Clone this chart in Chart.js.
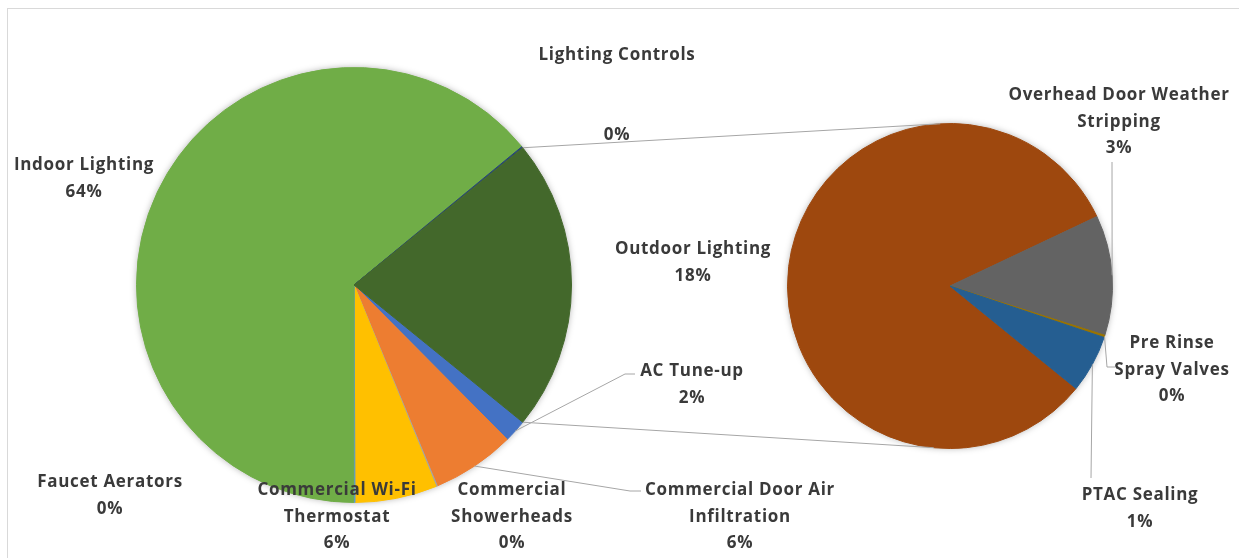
<!DOCTYPE html>
<html>
<head>
<meta charset="utf-8">
<script src="https://cdn.jsdelivr.net/npm/chart.js@4.4.1/dist/chart.umd.min.js"></script>
<style>
  body { margin: 0; background: #fff; }
  #wrap { position: relative; width: 1239px; height: 558px; overflow: hidden; }
  #frame { position: absolute; left: 7px; top: 8px; width: 1300px; height: 600px; border: 1px solid #D9D9D9; box-sizing: border-box; }
  canvas { position: absolute; left: 0; top: 0; }
</style>
</head>
<body>
<div id="wrap">
  <div id="frame"></div>
  <canvas id="mainPie" width="1239" height="558"></canvas>
  <canvas id="subPie" width="1239" height="558"></canvas>
</div>
<script>
// main pie, Excel order. the "other" slice (sum of the second pie) goes last
const mainLabels = ['AC Tune-up', 'Commercial Door Air Infiltration', 'Commercial Showerheads',
  'Commercial Wi-Fi Thermostat', 'Faucet Aerators', 'Indoor Lighting', 'Lighting Controls'];
const mainValues = [1.7, 6.2, 0.1, 6.1, 0.1, 64.2, 0.1];
const mainColors = ['#4472C4', '#ED7D31', '#A5A5A5', '#FFC000', '#5B9BD5', '#70AD47', '#264478'];
const otherColor = '#43682B';

// second pie (split out of "other")
const subLabels = ['Outdoor Lighting', 'Overhead Door Weather Stripping', 'Pre Rinse Spray Valves', 'PTAC Sealing'];
const subValues = [17.9, 2.6, 0.05, 1.25];
const subColors = ['#9E480E', '#636363', '#997300', '#255E91'];

const otherValue = subValues.reduce((a, b) => a + b, 0);
const total = mainValues.reduce((a, b) => a + b, 0) + otherValue;
const pct = v => Math.round(v / total * 100) + '%';

// other slice centred on 3 o'clock, second pie starts at the same angle
const otherDeg = otherValue / total * 360;
const startRotation = otherDeg / 2 - 270;

// label placement (centre x, y of first line), wrapped lines, leader points
const labelLayout = {
  'AC Tune-up':                     { x: 692, y: 371, lines: ['AC Tune-up'], leader: [[625, 374], [635, 374]] },
  'Commercial Door Air Infiltration': { x: 740, y: 490, lines: ['Commercial Door Air', 'Infiltration'], leader: [[630, 491], [641, 491]] },
  'Commercial Showerheads':         { x: 512, y: 490, lines: ['Commercial', 'Showerheads'] },
  'Commercial Wi-Fi Thermostat':    { x: 337, y: 490, lines: ['Commercial Wi-Fi', 'Thermostat'] },
  'Faucet Aerators':                { x: 110, y: 482, lines: ['Faucet Aerators'] },
  'Indoor Lighting':                { x: 84,  y: 165, lines: ['Indoor Lighting'] },
  'Lighting Controls':              { x: 617, y: 55,  lines: ['Lighting Controls', '', ''] },
  'Outdoor Lighting':               { x: 693, y: 249, lines: ['Outdoor Lighting'] },
  'Overhead Door Weather Stripping': { x: 1119, y: 95, lines: ['Overhead Door Weather', 'Stripping'], leader: [[1112, 162]] },
  'Pre Rinse Spray Valves':         { x: 1172, y: 343, lines: ['Pre Rinse', 'Spray Valves'], leader: [[1107, 367], [1115, 367]] },
  'PTAC Sealing':                   { x: 1140, y: 495, lines: ['PTAC Sealing'], leader: [[1091, 478]] }
};

const LINE_H = 26.8;
const TEXT_COLOR = '#3A3A3A';
const LINE_COLOR = '#A6A6A6';

const pieShadow = {
  id: 'pieShadow',
  beforeDatasetsDraw(chart) {
    const arc = chart.getDatasetMeta(0).data[0];
    const ctx = chart.ctx;
    ctx.save();
    ctx.shadowColor = 'rgba(0,0,0,0.35)';
    ctx.shadowBlur = 7;
    ctx.fillStyle = '#fff';
    ctx.beginPath();
    ctx.arc(arc.x, arc.y, arc.outerRadius - 0.5, 0, Math.PI * 2);
    ctx.fill();
    ctx.restore();
  }
};

function edgePoint(arc, angle) {
  return [arc.x + arc.outerRadius * Math.cos(angle), arc.y + arc.outerRadius * Math.sin(angle)];
}

function drawLabel(ctx, label, value, arc) {
  const lay = labelLayout[label];
  if (lay.leader) {
    const mid = (arc.startAngle + arc.endAngle) / 2;
    const p0 = edgePoint(arc, mid);
    ctx.beginPath();
    ctx.moveTo(p0[0], p0[1]);
    lay.leader.forEach(p => ctx.lineTo(p[0], p[1]));
    ctx.stroke();
  }
  const lines = lay.lines.concat([pct(value)]);
  lines.forEach((t, i) => ctx.fillText(t, lay.x, lay.y + i * LINE_H));
}

const mainChart = new Chart(document.getElementById('mainPie'), {
  type: 'pie',
  data: {
    labels: mainLabels.concat(['Other']),
    datasets: [{
      data: mainValues.concat([otherValue]),
      backgroundColor: mainColors.concat([otherColor]),
      borderColor: mainColors.concat([otherColor]),
      borderWidth: 1,
      hoverOffset: 0
    }]
  },
  options: {
    responsive: false,
    animation: false,
    events: [],
    rotation: startRotation,
    layout: { padding: { left: 136, right: 667, top: 67, bottom: 55 } },
    plugins: { legend: { display: false }, tooltip: { enabled: false } }
  },
  plugins: [pieShadow]
});

const overlay = {
  id: 'overlay',
  afterDraw(chart) {
    const ctx = chart.ctx;
    const mainArcs = mainChart.getDatasetMeta(0).data;
    const subArcs = chart.getDatasetMeta(0).data;
    const otherArc = mainArcs[mainArcs.length - 1];
    const subArc = subArcs[0];

    ctx.save();
    ctx.strokeStyle = LINE_COLOR;
    ctx.lineWidth = 1;

    // connector lines between the two pies
    const a = edgePoint(otherArc, otherArc.startAngle);
    const b = edgePoint(subArc, -Math.PI / 2 - 0.06);
    const c = edgePoint(otherArc, otherArc.endAngle);
    const d = edgePoint(subArc, Math.PI / 2 + 0.1);
    ctx.beginPath();
    ctx.moveTo(a[0], a[1]); ctx.lineTo(b[0], b[1]);
    ctx.moveTo(c[0], c[1]); ctx.lineTo(d[0], d[1]);
    ctx.stroke();

    ctx.font = 'bold 17px "Open Sans", sans-serif';
    ctx.letterSpacing = '0.7px';
    ctx.fillStyle = TEXT_COLOR;
    ctx.textAlign = 'center';
    ctx.textBaseline = 'middle';
    mainLabels.forEach((l, i) => drawLabel(ctx, l, mainValues[i], mainArcs[i]));
    subLabels.forEach((l, i) => drawLabel(ctx, l, subValues[i], subArcs[i]));
    ctx.restore();
  }
};

new Chart(document.getElementById('subPie'), {
  type: 'pie',
  data: {
    labels: subLabels,
    datasets: [{
      data: subValues,
      backgroundColor: subColors,
      borderColor: subColors,
      borderWidth: 1,
      hoverOffset: 0
    }]
  },
  options: {
    responsive: false,
    animation: false,
    events: [],
    rotation: startRotation,
    layout: { padding: { left: 787, right: 126, top: 123, bottom: 109 } },
    plugins: { legend: { display: false }, tooltip: { enabled: false } }
  },
  plugins: [pieShadow, overlay]
});
</script>
</body>
</html>
